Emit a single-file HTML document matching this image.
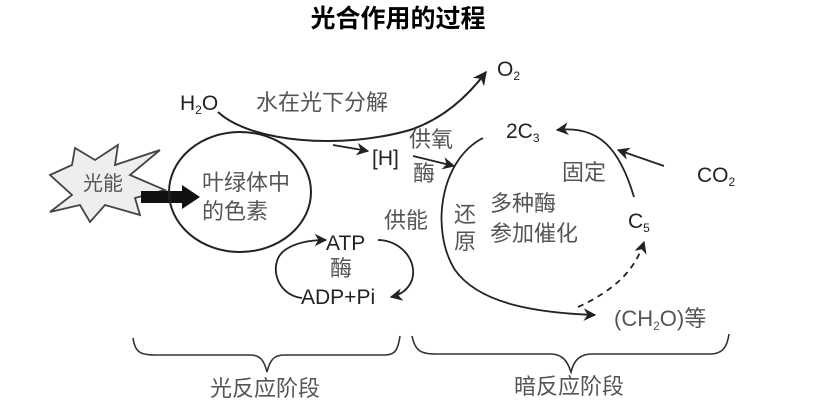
<!DOCTYPE html>
<html><head><meta charset="utf-8"><style>
html,body{margin:0;padding:0;background:#fff;}
svg{display:block;}
text{font-family:"Liberation Sans","Noto Sans CJK SC",sans-serif;}
.g{fill:#555;font-size:22px;}
.k{fill:#222;font-size:21px;}
</style></head><body>
<svg width="838" height="410" viewBox="0 0 838 410" xmlns="http://www.w3.org/2000/svg">
<defs>
<marker id="a" viewBox="0 0 10 10" refX="9" refY="5" markerWidth="7" markerHeight="7" orient="auto"><path d="M0,0 L10,5 L0,10 L3,5 z" fill="#222"/></marker>
</defs>
<rect width="838" height="410" fill="#fff"/>
<text x="398" y="27" text-anchor="middle" style="font-size:25px;font-weight:bold;fill:#000">光合作用的过程</text>

<text x="180" y="110" class="k">H<tspan font-size="12" dy="4">2</tspan><tspan dy="-4">O</tspan></text>
<text x="256" y="110" class="g">水在光下分解</text>
<path d="M218,112 C250,142 340,150 410,130 C440,120 465,100 486,72" fill="none" stroke="#222" stroke-width="2" marker-end="url(#a)"/>
<text x="497" y="76" class="k">O<tspan font-size="12" dy="4">2</tspan></text>

<path d="M333,145 L368,151" fill="none" stroke="#222" stroke-width="1.8" marker-end="url(#a)"/>
<text x="372" y="165" class="k">[H]</text>
<text x="409" y="147" class="g">供氧</text>
<text x="413" y="181" class="g">酶</text>
<path d="M413,156 L454,166" fill="none" stroke="#222" stroke-width="1.8" marker-end="url(#a)"/>
<text x="384" y="228" class="g">供能</text>

<polygon points="50,175 72,165 75,148 95,160 118,145 115,165 160,150 130,175 165,190 135,198 140,215 105,205 90,222 80,205 50,212 72,195" fill="#eee" stroke="#444" stroke-width="1.8"/>
<text x="83" y="190" class="g" style="font-size:20px">光能</text>
<path d="M141,191 L182,191 L182,185 L200,197 L182,209 L182,203 L141,203 z" fill="#111"/>

<ellipse cx="240" cy="192" rx="71" ry="60" fill="none" stroke="#222" stroke-width="2"/>
<text x="202" y="190" class="g">叶绿体中</text>
<text x="202" y="219" class="g">的色素</text>

<text x="326" y="250" class="k">ATP</text>
<text x="330" y="276" class="g">酶</text>
<text x="301" y="304" class="k">ADP+Pi</text>
<path d="M302,298 C275,295 268,262 285,250 C295,243 310,240 326,240" fill="none" stroke="#222" stroke-width="1.8" marker-end="url(#a)"/>
<path d="M378,240 C400,240 418,260 412,280 C408,290 400,295 391,297" fill="none" stroke="#222" stroke-width="1.8" marker-end="url(#a)"/>

<path d="M483,138 C440,160 430,230 455,270 C480,305 540,313 595,315" fill="none" stroke="#222" stroke-width="1.8" marker-end="url(#a)"/>
<text x="454" y="222" class="g">还</text>
<text x="454" y="249" class="g">原</text>
<text x="490" y="211" class="g">多种酶</text>
<text x="490" y="241" class="g">参加催化</text>

<text x="506" y="138" class="k">2C<tspan font-size="12" dy="4">3</tspan></text>
<path d="M634,197 C620,150 600,125 557,130" fill="none" stroke="#222" stroke-width="1.8" marker-end="url(#a)"/>
<path d="M664,166 L618,150" fill="none" stroke="#222" stroke-width="1.8" marker-end="url(#a)"/>
<text x="562" y="180" class="g">固定</text>
<text x="697" y="182" class="k">CO<tspan font-size="12" dy="4">2</tspan></text>
<text x="628" y="228" class="k">C<tspan font-size="12" dy="4">5</tspan></text>
<path d="M578,307 C615,290 635,270 644,242" fill="none" stroke="#222" stroke-width="1.8" stroke-dasharray="6,5" marker-end="url(#a)"/>
<text x="614" y="326" class="g">(CH<tspan font-size="12" dy="4">2</tspan><tspan dy="-4">O)等</tspan></text>

<path d="M133,338 C135,352 140,355 155,355 L250,355 C260,355 264,360 267,372 C270,360 274,355 284,355 L385,355 C395,355 398,350 400,336" fill="none" stroke="#333" stroke-width="1.6"/>
<path d="M412,336 C415,350 420,354 435,354 L550,354 C562,354 567,360 571,372 C574,360 580,354 592,354 L710,354 C722,354 727,348 729,334" fill="none" stroke="#333" stroke-width="1.6"/>
<text x="265" y="396" text-anchor="middle" class="g">光反应阶段</text>
<text x="569" y="394" text-anchor="middle" class="g">暗反应阶段</text>
</svg>
</body></html>
